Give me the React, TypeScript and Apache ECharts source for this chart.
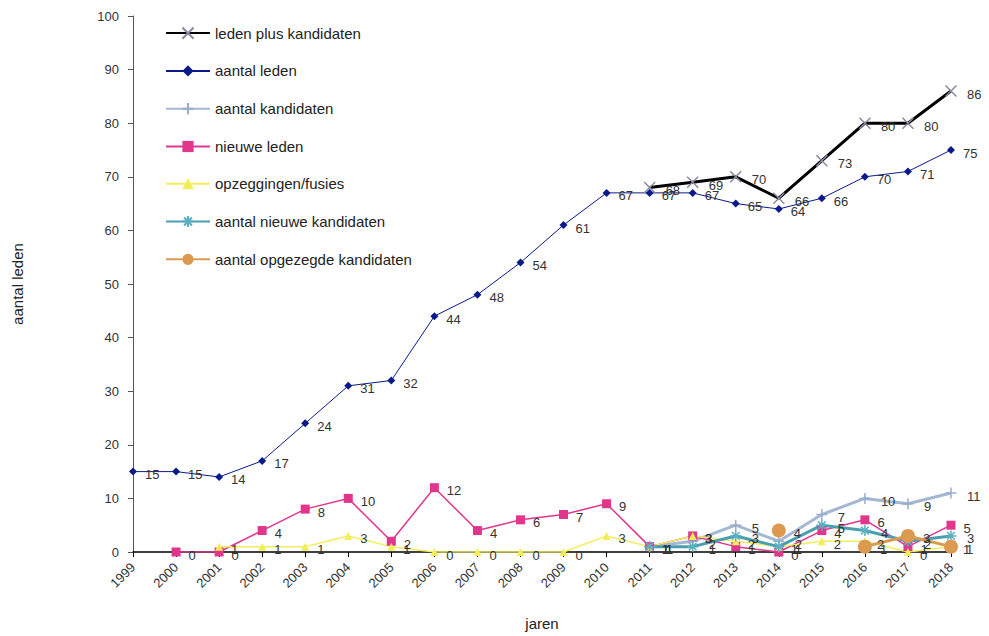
import React, { useEffect, useRef } from "react";
import * as echarts from "echarts";

const years = ["1999","2000","2001","2002","2003","2004","2005","2006","2007","2008","2009","2010","2011","2012","2013","2014","2015","2016","2017","2018"];
const ledenPlusKandidaten = [null,null,null,null,null,null,null,null,null,null,null,null,68,69,70,66,73,80,80,86];
const aantalLeden = [15,15,14,17,24,31,32,44,48,54,61,67,67,67,65,64,66,70,71,75];
const aantalKandidaten = [null,null,null,null,null,null,null,null,null,null,null,null,1,2,5,2,7,10,9,11];
const nieuweLeden = [null,0,0,4,8,10,2,12,4,6,7,9,1,3,1,0,4,6,1,5];
const opzeggingen = [null,null,1,1,1,3,1,0,0,0,0,3,1,3,2,1,2,2,0,1];
const nieuweKandidaten = [null,null,null,null,null,null,null,null,null,null,null,null,1,1,3,1,5,4,2,3];
const opgezegdeKandidaten = [null,null,null,null,null,null,null,null,null,null,null,null,null,null,null,4,null,1,3,1];
const yTicks = { min: 0, max: 100, interval: 10 };

const FONT = "Liberation Sans, Arial, sans-serif";

export default function App() {
  const ref = useRef<HTMLDivElement>(null);
  useEffect(() => {
    if (!ref.current) return;
    const chart = echarts.init(ref.current, null, { renderer: "svg" });
    const label = (dist = 8) => ({
      show: true,
      position: "right",
      distance: dist,
      offset: [0, 3],
      color: "#333",
      fontSize: 13,
      fontFamily: FONT,
    });
    const mk = (
      name: string,
      data: (number | null)[],
      color: string,
      width: number,
      symbol: string,
      size: number,
      stroked: boolean
    ) => ({
      name,
      type: "line",
      data,
      symbol,
      symbolSize: size,
      showAllSymbol: true,
      lineStyle: { color, width },
      itemStyle: stroked
        ? { color: "none", borderColor: color, borderWidth: 1.5 }
        : { color, borderColor: color, borderWidth: 0 },
      label: label(),
      emphasis: { disabled: true },
    });
    const X = "path://M0,0L10,10M10,0L0,10";
    const PLUS = "path://M5,0L5,10M0,5L10,5";
    const STAR = "path://M5,0L5,10M0,5L10,5M1.5,1.5L8.5,8.5M8.5,1.5L1.5,8.5";
    const series: any[] = [
      { ...mk("leden plus kandidaten", ledenPlusKandidaten, "#000000", 3, X, 11, true),
        itemStyle: { color: "none", borderColor: "#8a8aa0", borderWidth: 1.5 } },
      mk("aantal leden", aantalLeden, "#0a1a8a", 1, "diamond", 8, false),
      { ...mk("aantal kandidaten", aantalKandidaten, "#a4b8d4", 3, PLUS, 11, true),
        itemStyle: { color: "none", borderColor: "#9aaecc", borderWidth: 1.5 } },
      mk("nieuwe leden", nieuweLeden, "#e2368c", 1.5, "rect", 9, false),
      mk("opzeggingen/fusies", opzeggingen, "#f2ee5a", 1.5, "triangle", 8, false),
      { ...mk("aantal nieuwe kandidaten", nieuweKandidaten, "#4a9eb0", 3, STAR, 11, true),
        itemStyle: { color: "none", borderColor: "#5ab0c0", borderWidth: 1.5 } },
      mk("aantal opgezegde kandidaten", opgezegdeKandidaten, "#dc9a50", 3, "circle", 14, false),
    ];
    chart.setOption({
      animation: false,
      backgroundColor: "#ffffff",
      textStyle: { fontFamily: FONT },
      grid: { left: 133, top: 16, right: 38, bottom: 79, containLabel: false },
      legend: {
        orient: "vertical",
        left: 160,
        top: 20,
        itemWidth: 44,
        itemHeight: 14,
        itemGap: 22.2,
        textStyle: { color: "#222", fontSize: 15, fontFamily: FONT },
        data: series.map((s) => s.name),
      },
      xAxis: {
        type: "category",
        data: years,
        boundaryGap: false,
        name: "jaren",
        nameLocation: "middle",
        nameGap: 64,
        nameTextStyle: { color: "#222", fontSize: 15, fontFamily: FONT },
        axisLine: { lineStyle: { color: "#000", width: 1.5 } },
        axisTick: { show: true, alignWithLabel: true, length: 5, lineStyle: { color: "#000" } },
        axisLabel: { rotate: 45, color: "#333", fontSize: 13, margin: 13, fontFamily: FONT, interval: 0 },
        splitLine: { show: false },
      },
      yAxis: {
        type: "value",
        min: yTicks.min,
        max: yTicks.max,
        interval: yTicks.interval,
        name: "aantal leden",
        nameLocation: "middle",
        nameGap: 108,
        nameTextStyle: { color: "#222", fontSize: 15, fontFamily: FONT },
        axisLine: { show: true, lineStyle: { color: "#555", width: 1 } },
        axisTick: { show: true, length: 5, lineStyle: { color: "#555" } },
        axisLabel: { color: "#333", fontSize: 13, margin: 14, fontFamily: FONT },
        splitLine: { show: false },
      },
      series,
    });
    return () => chart.dispose();
  }, []);
  return <div ref={ref} style={{ width: 989, height: 636, position: "absolute", left: 0, top: 0 }} />;
}
